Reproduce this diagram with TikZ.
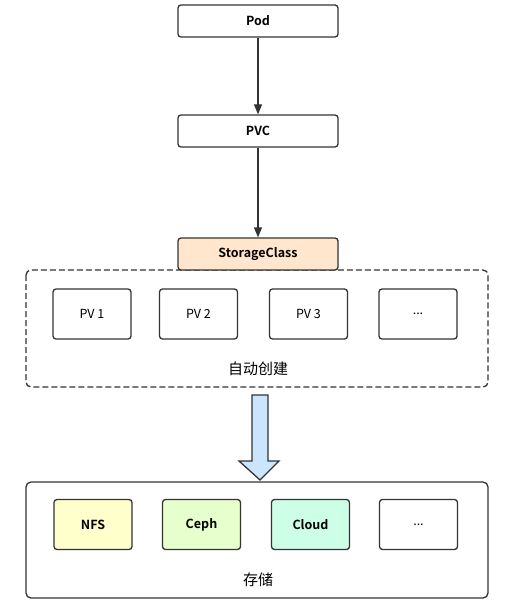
\documentclass[tikz,border=0pt]{standalone}
\usepackage{fontspec}
\setmainfont{Noto Sans CJK SC}
\newfontfamily\cjkb{Noto Sans CJK SC Bold}
\usetikzlibrary{arrows.meta}
\definecolor{ln}{HTML}{333333}
\definecolor{peach}{HTML}{FFE6CC}
\definecolor{nfsc}{HTML}{FFFFCC}
\definecolor{cephc}{HTML}{E6FFCC}
\definecolor{cloudc}{HTML}{CCFFE6}
\definecolor{arrc}{HTML}{CCE5FF}
\begin{document}
\begin{tikzpicture}[x=1pt,y=-1pt,
  box/.style={draw=ln,line width=1.3pt,rounded corners=3pt,inner sep=0pt,font=\fontsize{12.5}{14}\selectfont},
  bx/.style={box,minimum width=160pt,minimum height=32pt,font=\cjkb\fontsize{12.5}{14}\selectfont},
  pv/.style={box,minimum width=78pt,minimum height=50pt},
  st/.style={pv,font=\cjkb\fontsize{12.5}{14}\selectfont},
  con/.style={draw=ln,line width=1.3pt,-{Triangle[length=10pt,width=8pt]}},
  lbl/.style={font=\fontsize{15}{17}\selectfont}]
\useasboundingbox (0,0) rectangle (522,607);
\fill[white] (0,0) rectangle (522,607);
\node[bx] (pod) at (258,21) {Pod};
\node[bx] (pvc) at (258,131) {PVC};
\draw[draw=ln,line width=1.3pt,dashed,dash pattern=on 6pt off 3pt,rounded corners=5pt] (26,270) rectangle (488,387);
\node[bx,fill=peach] (sc) at (258,254) {StorageClass};
\node[pv] (pv1) at (92,314) {PV 1};
\node[pv] (pv2) at (198.5,314) {PV 2};
\node[pv] (pv3) at (308.5,314) {PV 3};
\node[pv] (pv4) at (418,314) {...};
\node[lbl] (auto) at (258,369) {自动创建};
\draw[con] (pod) -- (pvc);
\draw[con] (pvc) -- (sc);
\draw[draw=ln,line width=1.3pt,rounded corners=5pt] (26,482) rectangle (488,598);
\draw[draw=ln,line width=1.3pt,fill=arrc,line join=miter] (252,395) -- (268,395) -- (268,461) -- (279,461) -- (260,480) -- (239,461) -- (252,461) -- cycle;
\node[st,fill=nfsc] (nfs) at (93,524.5) {NFS};
\node[st,fill=cephc] (ceph) at (201.5,524.5) {Ceph};
\node[st,fill=cloudc] (cloud) at (310.5,524.5) {Cloud};
\node[pv] (dots) at (418.5,524.5) {...};
\node[lbl] (store) at (258,580) {存储};
\end{tikzpicture}
\end{document}
